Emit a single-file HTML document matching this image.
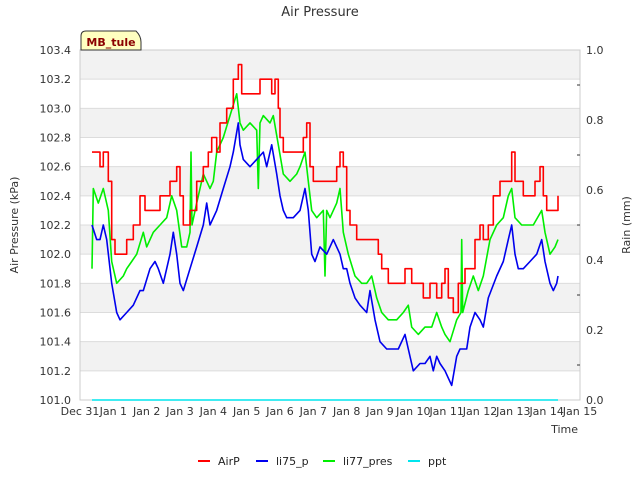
<!DOCTYPE html>
<html><head><meta charset="utf-8"><style>
body{margin:0;background:#fff;font-family:"Liberation Sans","DejaVu Sans",sans-serif}
svg text{font-family:"DejaVu Sans","Liberation Sans",sans-serif}
</style></head><body>
<svg id="chart" width="640" height="480" xmlns="http://www.w3.org/2000/svg">
<rect width="640" height="480" fill="#fff"/>
<g id="bands"></g>
<g id="grid"></g>
<rect x="80" y="50" width="500" height="350" fill="none" stroke="#ccc"/>
<g id="series"></g>
<g id="axes" font-size="11" fill="#333"></g>
<text x="320" y="16" text-anchor="middle" font-size="13" fill="#333">Air Pressure</text>
<text x="18" y="225" text-anchor="middle" font-size="11" fill="#333" transform="rotate(-90 18 225)">Air Pressure (kPa)</text>
<text x="630" y="225" text-anchor="middle" font-size="11" fill="#333" transform="rotate(-90 630 225)">Rain (mm)</text>
<text x="578" y="433" text-anchor="end" font-size="11" fill="#333">Time</text>
<g>
<path d="M81,50 L81,36 Q81,31 86,31 L136,31 Q141,36 141,42 L141,50 Z" fill="#ffffc0" stroke="#333"/>
<text x="111" y="46" text-anchor="middle" font-size="11" font-weight="bold" fill="#8b0000">MB_tule</text>
</g>
<g id="legend" font-size="11" fill="#222"></g>
</svg>
<script>
const airT=[0.36,0.6,0.7,0.85,0.95,1.05,1.3,1.4,1.6,1.8,1.95,2.2,2.4,2.7,2.9,3.0,3.1,3.3,3.5,3.7,3.85,3.95,4.1,4.2,4.4,4.6,4.75,4.85,5.0,5.3,5.4,5.6,5.75,5.85,5.95,6.0,6.1,6.3,6.5,6.7,6.8,6.9,7.0,7.3,7.5,7.7,7.8,7.9,8.0,8.1,8.3,8.5,8.8,8.95,9.05,9.25,9.6,9.75,9.85,9.95,10.15,10.3,10.5,10.7,10.85,10.95,11.05,11.2,11.35,11.55,11.7,11.85,12.0,12.1,12.25,12.4,12.6,12.8,12.95,13.05,13.3,13.5,13.65,13.8,13.9,14.0,14.3,14.34];
const airV=[102.7,102.6,102.7,102.5,102.1,102.0,102.0,102.1,102.2,102.4,102.3,102.3,102.4,102.5,102.6,102.4,102.2,102.3,102.5,102.6,102.7,102.8,102.7,102.9,103.0,103.2,103.3,103.1,103.1,103.1,103.2,103.2,103.1,103.2,103.0,102.8,102.7,102.7,102.7,102.8,102.9,102.6,102.5,102.5,102.5,102.6,102.7,102.6,102.3,102.2,102.1,102.1,102.1,102.0,101.9,101.8,101.8,101.9,101.9,101.8,101.8,101.7,101.8,101.7,101.8,101.9,101.7,101.6,101.8,101.9,101.9,102.1,102.2,102.1,102.2,102.4,102.5,102.5,102.7,102.5,102.4,102.4,102.5,102.6,102.4,102.3,102.3,102.4];
const li75T=[0.36,0.5,0.6,0.7,0.8,0.95,1.1,1.2,1.4,1.6,1.8,1.9,2.1,2.25,2.35,2.5,2.7,2.8,2.9,3.0,3.1,3.3,3.5,3.7,3.8,3.9,4.1,4.3,4.5,4.6,4.75,4.8,4.9,5.1,5.3,5.5,5.6,5.75,5.9,6.0,6.1,6.2,6.4,6.6,6.75,6.85,6.95,7.05,7.2,7.4,7.6,7.8,7.9,8.0,8.1,8.25,8.4,8.6,8.7,8.85,9.0,9.2,9.4,9.55,9.75,9.85,10.0,10.2,10.35,10.5,10.6,10.7,10.8,10.95,11.05,11.15,11.3,11.4,11.6,11.7,11.85,12.0,12.1,12.25,12.5,12.7,12.85,12.95,13.05,13.15,13.3,13.5,13.7,13.85,13.95,14.1,14.2,14.3,14.34];
const li75V=[102.2,102.1,102.1,102.2,102.1,101.8,101.6,101.55,101.6,101.65,101.75,101.75,101.9,101.95,101.9,101.8,102.0,102.15,102.0,101.8,101.75,101.9,102.05,102.2,102.35,102.2,102.3,102.45,102.6,102.7,102.9,102.75,102.65,102.6,102.65,102.7,102.6,102.75,102.55,102.4,102.3,102.25,102.25,102.3,102.45,102.3,102.0,101.95,102.05,102.0,102.1,102.0,101.9,101.9,101.8,101.7,101.65,101.6,101.75,101.55,101.4,101.35,101.35,101.35,101.45,101.35,101.2,101.25,101.25,101.3,101.2,101.3,101.25,101.2,101.15,101.1,101.3,101.35,101.35,101.5,101.6,101.55,101.5,101.7,101.85,101.95,102.1,102.2,102.0,101.9,101.9,101.95,102.0,102.1,101.95,101.8,101.75,101.8,101.85];
const li77T=[0.36,0.4,0.55,0.7,0.85,0.95,1.1,1.3,1.4,1.55,1.7,1.9,2.0,2.2,2.4,2.6,2.75,2.9,3.05,3.2,3.3,3.33,3.36,3.5,3.7,3.8,3.9,4.0,4.1,4.3,4.5,4.7,4.8,4.9,5.1,5.3,5.35,5.4,5.5,5.7,5.8,5.95,6.1,6.3,6.5,6.6,6.75,6.85,6.95,7.1,7.3,7.35,7.4,7.5,7.7,7.8,7.9,8.05,8.25,8.45,8.6,8.75,8.9,9.05,9.25,9.5,9.7,9.85,9.95,10.15,10.35,10.55,10.7,10.85,10.95,11.1,11.3,11.43,11.45,11.48,11.65,11.8,11.95,12.1,12.3,12.5,12.7,12.85,12.95,13.05,13.25,13.45,13.6,13.85,13.95,14.1,14.25,14.34];
const li77V=[101.9,102.45,102.35,102.45,102.3,101.95,101.8,101.85,101.9,101.95,102.0,102.15,102.05,102.15,102.2,102.25,102.4,102.3,102.05,102.05,102.15,102.7,102.2,102.35,102.55,102.5,102.45,102.5,102.7,102.8,102.95,103.1,102.9,102.85,102.9,102.85,102.45,102.9,102.95,102.9,102.95,102.75,102.55,102.5,102.55,102.6,102.7,102.5,102.3,102.25,102.3,101.85,102.3,102.25,102.35,102.45,102.15,102.0,101.85,101.8,101.8,101.85,101.7,101.6,101.55,101.55,101.6,101.65,101.5,101.45,101.5,101.5,101.6,101.5,101.45,101.4,101.55,101.6,102.1,101.6,101.75,101.85,101.75,101.85,102.1,102.2,102.25,102.4,102.45,102.25,102.2,102.2,102.2,102.3,102.15,102.0,102.05,102.1];
const pptT=[0.36,14.34];
const pptV=[0,0];
const yTicks=[101.0,101.2,101.4,101.6,101.8,102.0,102.2,102.4,102.6,102.8,103.0,103.2,103.4];
const y2Ticks=[0.0,0.2,0.4,0.6,0.8,1.0];
const xLabels=["Dec 31","Jan 1","Jan 2","Jan 3","Jan 4","Jan 5","Jan 6","Jan 7","Jan 8","Jan 9","Jan 10","Jan 11","Jan 12","Jan 13","Jan 14","Jan 15"];
const NS="http://www.w3.org/2000/svg";
const X=d=>80+d*500/15, Y=v=>400-(v-101)*350/2.4, Y2=v=>400-v*350;
function mk(tag,at,parent){const e=document.createElementNS(NS,tag);for(const k in at)e.setAttribute(k,at[k]);parent.appendChild(e);return e;}
const bands=document.getElementById('bands'),grid=document.getElementById('grid'),axes=document.getElementById('axes'),series=document.getElementById('series'),legend=document.getElementById('legend');
for(let i=0;i<yTicks.length-1;i++){ if(i%2===1){const r=mk('rect',{x:80,y:Y(yTicks[i+1]),width:500,height:Y(yTicks[i])-Y(yTicks[i+1]),fill:'#f2f2f2'},bands);

}}
yTicks.forEach(v=>{const l=mk('line',{x1:80,x2:580,y1:Y(v),y2:Y(v),stroke:'#dcdcdc'},grid);


const t=mk('text',{x:71,y:Y(v)+4,'text-anchor':'end'},axes);t.textContent=v.toFixed(1);

});
y2Ticks.forEach(v=>{const t=mk('text',{x:586,y:Y2(v)+4},axes);t.textContent=v.toFixed(1);

});
for(let k=1;k<10;k+=2){const l=mk('line',{x1:577,x2:580,y1:Y2(k/10),y2:Y2(k/10),stroke:'#333'},axes);

}
xLabels.forEach((s,i)=>{const t=mk('text',{x:X(i),y:415,'text-anchor':'middle'},axes);t.textContent=s;

});
function line(T,V,col,name,yf,step){let p='';T.forEach((t,i)=>{const x=X(t).toFixed(1),y=yf(V[i]).toFixed(1);
if(!i)p+='M'+x+','+y;else if(step)p+='H'+x+'V'+y;else p+='L'+x+','+y;});
const e=mk('path',{d:p,fill:'none',stroke:col,'stroke-width':1.6,'stroke-linejoin':'round'},series);

}
line(pptT,pptV,'#00e5ee','ppt-line',Y2,false);
line(li77T,li77V,'#00ee00','li77-pres-line',Y,false);
line(li75T,li75V,'#0000ee','li75-p-line',Y,false);
line(airT,airV,'#ff0000','airp-line',Y,true);
const leg=[['AirP','#ff0000',198],['li75_p','#0000ee',256],['li77_pres','#00ee00',323],['ppt','#00e5ee',408]];
leg.forEach(([n,c,x])=>{const g=mk('g',{},legend);


mk('line',{x1:x,x2:x+12,y1:461,y2:461,stroke:c,'stroke-width':2},g);
const t=mk('text',{x:x+20,y:465},g);t.textContent=n;});
</script>
</body></html>
